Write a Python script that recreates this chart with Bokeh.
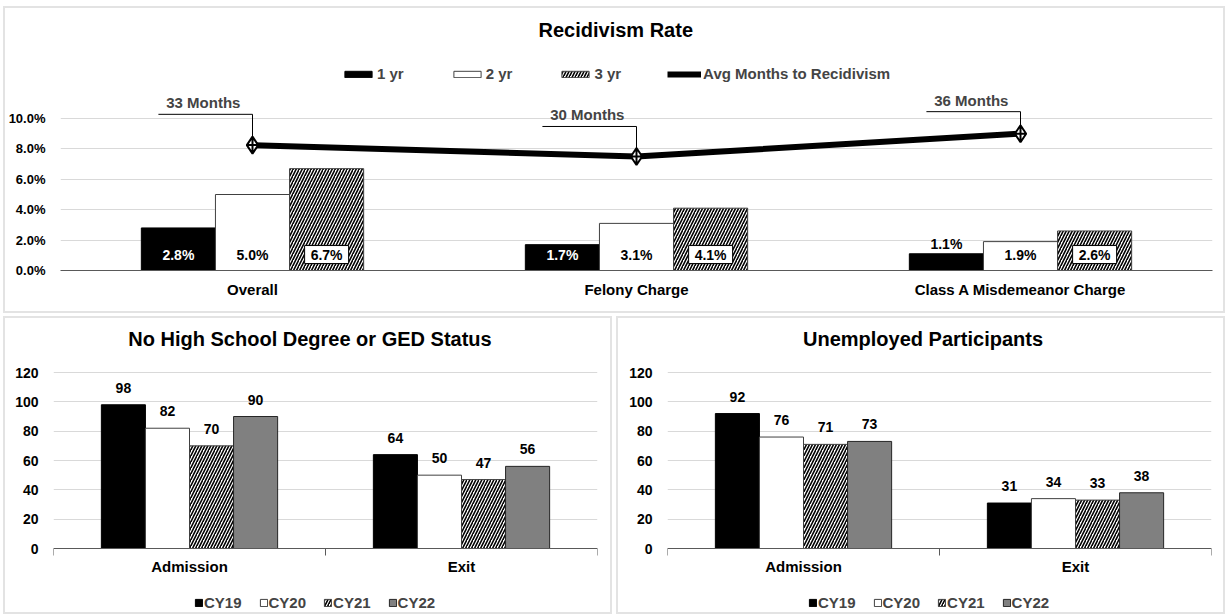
import numpy as np
from bokeh.plotting import figure
from bokeh.models import (ColumnDataSource, Range1d, FixedTicker, PrintfTickFormatter,
                          Legend, LegendItem, LabelSet, Label, Arrow, Span)
from bokeh.layouts import column, row
from bokeh.core.properties import value
from bokeh.embed import file_html
from bokeh.resources import INLINE

FONT = "Liberation Sans"

# ---------------- data ----------------
top_categories = ["Overall", "Felony Charge", "Class A Misdemeanor Charge"]
rate_1yr = [2.8, 1.7, 1.1]
rate_2yr = [5.0, 3.1, 1.9]
rate_3yr = [6.7, 4.1, 2.6]
avg_months = [33, 30, 36]
top_yticks = [0, 2, 4, 6, 8, 10]

periods = ["Admission", "Exit"]
cohorts = ["CY19", "CY20", "CY21", "CY22"]
no_hs_cy19 = [98, 64]
no_hs_cy20 = [82, 50]
no_hs_cy21 = [70, 47]
no_hs_cy22 = [90, 56]
unemp_cy19 = [92, 31]
unemp_cy20 = [76, 34]
unemp_cy21 = [71, 33]
unemp_cy22 = [73, 38]
bottom_yticks = [0, 20, 40, 60, 80, 100, 120]

# ---------------- styles ----------------
GRID = "#d9d9d9"
AXIS = "#595959"
BORDER = {"border": "2px solid #e3e3e3"}
HATCH = dict(fill_color="white", hatch_pattern="/", hatch_color="black",
             hatch_scale=6, hatch_weight=1.6)


def style_common(p, tick_size, ymax, xbounds):
    p.outline_line_color = None
    p.ygrid.grid_line_color = GRID
    p.xgrid.ticker = FixedTicker(ticks=list(xbounds))
    p.xgrid.bounds = (0, ymax)
    p.xgrid.grid_line_color = GRID
    p.xgrid.grid_line_width = 2
    p.yaxis.axis_line_color = None
    p.yaxis.major_tick_line_color = None
    p.yaxis.minor_tick_line_color = None
    p.yaxis.major_label_text_font = FONT
    p.yaxis.major_label_text_font_style = "bold"
    p.yaxis.major_label_text_font_size = tick_size
    p.yaxis.major_label_text_color = "black"
    p.yaxis.major_label_standoff = 9
    p.xaxis.axis_line_color = AXIS
    p.xaxis.major_tick_line_color = None
    p.xaxis.minor_tick_line_color = None
    p.xaxis.major_label_text_font = FONT
    p.xaxis.major_label_text_font_style = "bold"
    p.xaxis.major_label_text_font_size = "15px"
    p.xaxis.major_label_text_color = "black"


def lbl(src, **kw):
    base = dict(x="x", y="y", text="t", source=src, text_align="center",
                text_font=value(FONT), text_font_style="bold", text_font_size="14px")
    base.update(kw)
    return LabelSet(**base)


# ---------------- top chart ----------------
TW, TH = 1222, 307
T_PX_PER_PCT = 15.2          # frame pixels per 1 %
T_TOP, T_BOTTOM = 36, 45     # frame margins
t_ymax = (TH - T_TOP - T_BOTTOM) / T_PX_PER_PCT
top = figure(width=TW, height=TH, x_range=Range1d(-0.5, 2.5), y_range=Range1d(0, t_ymax),
             output_backend="svg", toolbar_location=None, title="Recidivism Rate",
             min_border_left=55, min_border_right=15, min_border_top=T_TOP,
             min_border_bottom=T_BOTTOM, styles=BORDER)
top.extra_y_ranges = {"months": Range1d(0, t_ymax * 4)}
style_common(top, "13px", max(top_yticks), [-0.5, len(top_categories) - 0.5])
top.title.align = "left"
top.title.offset = 478
top.title.standoff = 8
top.title.text_font = FONT
top.title.text_font_style = "bold"
top.title.text_font_size = "20px"
top.title.text_color = "black"
top.yaxis.ticker = FixedTicker(ticks=top_yticks)
top.yaxis.formatter = PrintfTickFormatter(format="%.1f%%")
xc = np.arange(len(top_categories))
top.xaxis.ticker = FixedTicker(ticks=[int(i) for i in xc])
top.xaxis.major_label_overrides = {int(i): c for i, c in zip(xc, top_categories)}
top.xaxis.major_label_standoff = 4

bw = 0.193
r1 = top.vbar(x=xc - bw, top=rate_1yr, width=bw, fill_color="black", line_color="black")
r2 = top.vbar(x=xc, top=rate_2yr, width=bw, fill_color="white", line_color="#404040")
r3 = top.vbar(x=xc + bw, top=rate_3yr, width=bw, line_color="#404040", **HATCH)

rl = top.line(xc, avg_months, y_range_name="months", line_width=6, line_color="black")
rm = top.scatter(xc, avg_months, y_range_name="months", marker="diamond_cross", size=17,
                 fill_color="white", line_color="black", line_width=2)
rm_leg = top.scatter(x=[], y=[], marker="diamond_cross", size=8,
                     fill_color="white", line_color="black", line_width=1)

# leader lines + month labels
lead_off = [8.1, 7.9, 5.8]
lead_y = [m + o for m, o in zip(avg_months, lead_off)]
lead_src = ColumnDataSource(dict(x0=xc - 0.245, x1=xc, y=lead_y, m=avg_months,
                                 tx=xc - 0.128, t=[f"{m} Months" for m in avg_months]))
top.add_layout(Arrow(end=None, x_start="x0", y_start="y", x_end="x1", y_end="y",
                     source=lead_src, y_range_name="months", line_color="black", line_width=1))
top.add_layout(Arrow(end=None, x_start="x1", y_start="y", x_end="x1", y_end="m",
                     source=lead_src, y_range_name="months", line_color="black", line_width=1))
top.add_layout(lbl(lead_src, x="tx", y_range_name="months", text_baseline="bottom",
                   y_offset=3, text_font_size="15px"))

# bar value labels
base_y = 1.05
in1 = [i for i, v in enumerate(rate_1yr) if v >= 1.5]
out1 = [i for i, v in enumerate(rate_1yr) if v < 1.5]
l1_in = ColumnDataSource(dict(x=[float(xc[i] - bw) for i in in1], y=[base_y] * len(in1),
                              t=[f"{rate_1yr[i]:.1f}%" for i in in1]))
l1_out = ColumnDataSource(dict(x=[float(xc[i] - bw) for i in out1], y=[rate_1yr[i] for i in out1],
                               t=[f"{rate_1yr[i]:.1f}%" for i in out1]))
top.add_layout(lbl(l1_in, text_color="white", text_baseline="middle"))
top.add_layout(lbl(l1_out, text_color="black", text_baseline="bottom", y_offset=2))
l2_src = ColumnDataSource(dict(x=xc, y=[base_y] * len(xc), t=[f"{v:.1f}%" for v in rate_2yr]))
top.add_layout(lbl(l2_src, text_color="black", text_baseline="middle"))
l3_src = ColumnDataSource(dict(x=xc + bw, y=[base_y] * len(xc), t=[f"{v:.1f}%" for v in rate_3yr]))
top.rect(x="x", y="y", width=44, height=18, width_units="screen", height_units="screen",
         source=l3_src, fill_color="white", line_color="black", line_width=1)
top.add_layout(lbl(l3_src, text_color="black", text_baseline="middle"))

top_legend = Legend(items=[LegendItem(label="1 yr", renderers=[r1]),
                           LegendItem(label="2 yr", renderers=[r2]),
                           LegendItem(label="3 yr", renderers=[r3]),
                           LegendItem(label="Avg Months to Recidivism", renderers=[rl, rm_leg])],
                    orientation="horizontal", location=(281, 188), glyph_width=34, glyph_height=8,
                    label_text_font=FONT, label_text_font_style="bold", label_text_font_size="15px",
                    spacing=46, label_standoff=2, border_line_color=None, padding=0, margin=0,
                    background_fill_alpha=0)
top.add_layout(top_legend)


# ---------------- bottom charts ----------------
BW_, BH = 609, 298
B_PX_PER_UNIT = 176 / 120     # frame pixels per count
B_TOP_PX = 54                 # canvas px from top to the 120 line
B_FRAME_W = 544


def bottom_chart(title, s19, s20, s21, s22, border_left):
    ymax = 120 + B_TOP_PX / B_PX_PER_UNIT
    ymin = ymax - BH / B_PX_PER_UNIT
    p = figure(width=BW_, height=BH, x_range=Range1d(-0.5, len(periods) - 0.5),
               y_range=Range1d(ymin, ymax), output_backend="svg", toolbar_location=None,
               min_border_left=border_left, min_border_right=BW_ - border_left - B_FRAME_W,
               min_border_top=0, min_border_bottom=0, styles=BORDER)
    style_common(p, "14px", max(bottom_yticks), [-0.5, len(periods) - 0.5])
    p.yaxis.ticker = FixedTicker(ticks=bottom_yticks)
    p.xaxis.visible = False
    px = np.arange(len(periods))
    px_per_cat = B_FRAME_W / len(periods)

    # category axis drawn inside the frame (legend sits below it)
    p.add_layout(Span(location=0, dimension="width", line_color=AXIS, line_width=1))
    bounds = [float(i) - 0.5 for i in range(len(periods) + 1)]
    tick_len = 7 / B_PX_PER_UNIT
    p.segment(x0=bounds, y0=[0] * len(bounds), x1=bounds, y1=[-tick_len] * len(bounds),
              line_color=AXIS, line_width=1)
    cat_src = ColumnDataSource(dict(x=px, y=[0] * len(px), t=periods))
    p.add_layout(lbl(cat_src, text_baseline="top", y_offset=-9, text_font_size="15px",
                     text_color="black"))

    # title centred on the panel
    cx = -0.5 + (BW_ / 2 - border_left) / px_per_cat
    p.add_layout(Label(x=cx, y=ymax - 20 / B_PX_PER_UNIT, text=title, text_align="center",
                       text_baseline="middle", text_font=FONT, text_font_style="bold",
                       text_font_size="20px", text_color="black"))

    w = 0.162
    styles = [dict(fill_color="black", line_color="black"),
              dict(fill_color="white", line_color="#404040"),
              dict(line_color="#404040", **HATCH),
              dict(fill_color="#808080", line_color="#262626")]
    items = []
    for k, (name, vals, st) in enumerate(zip(cohorts, [s19, s20, s21, s22], styles)):
        xs = px + (k - 1.5) * w
        r = p.vbar(x=xs, top=vals, width=w, **st)
        items.append(LegendItem(label=name, renderers=[r]))
        src = ColumnDataSource(dict(x=xs, y=vals, t=[str(v) for v in vals]))
        p.add_layout(lbl(src, text_baseline="bottom", y_offset=12, text_color="black"))
    lg = Legend(items=items, orientation="horizontal", location=(141, 5),
                glyph_width=9, glyph_height=9, label_text_font=FONT, label_text_font_style="bold",
                label_text_font_size="15px", spacing=17, label_standoff=1,
                border_line_color=None, padding=0, margin=0, background_fill_alpha=0)
    p.add_layout(lg)
    return p


left = bottom_chart("No High School Degree or GED Status",
                    no_hs_cy19, no_hs_cy20, no_hs_cy21, no_hs_cy22, 48)
right = bottom_chart("Unemployed Participants",
                     unemp_cy19, unemp_cy20, unemp_cy21, unemp_cy22, 49)

top.margin = (6, 0, 0, 3)
left.margin = (3, 0, 0, 3)
right.margin = (3, 0, 0, 4)
layout = column(top, row(left, right))

open("out.html", "w").write(file_html(layout, INLINE))
